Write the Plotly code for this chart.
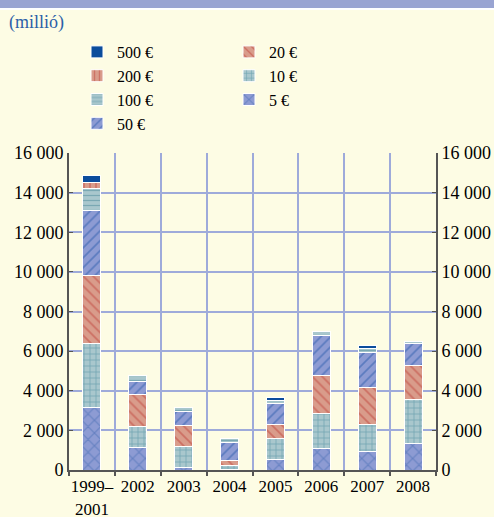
import plotly.graph_objects as go

# Euro banknotes, net quantities by denomination (million pieces)
years = ["1999–<br>2001", "2002", "2003", "2004", "2005", "2006", "2007", "2008"]

eur5 = [3150, 1140, 150, 30, 540, 1100, 950, 1340]
eur10 = [3210, 1060, 1050, 200, 1040, 1740, 1330, 2210]
eur20 = [3440, 1590, 1050, 250, 700, 1940, 1860, 1700]
eur50 = [3300, 690, 680, 900, 1070, 2010, 1770, 1120]
eur100 = [1130, 270, 200, 200, 170, 180, 240, 130]
eur200 = [280, 0, 0, 0, 0, 0, 0, 0]
eur500 = [340, 0, 0, 0, 130, 0, 150, 0]

series = [
    # name, values, fill, pattern shape, pattern colour, pattern size, legend rank
    ("5 €", eur5, "#8d9bd3", "x", "#3f68b0", 9, 6),
    ("10 €", eur10, "#a9c7cd", "+", "#3d8797", 6, 4),
    ("20 €", eur20, "#d99c8b", "\\", "#c0413a", 7, 2),
    ("50 €", eur50, "#8d9bd3", "/", "#2a5cab", 7, 7),
    ("100 €", eur100, "#a9c7cd", "-", "#4b8a99", 5, 5),
    ("200 €", eur200, "#d99c8b", "|", "#c0413a", 6, 3),
    ("500 €", eur500, "#0b4c9c", "", "#0b4c9c", 8, 1),
]

serif = "Liberation Serif"
bg = "#fdfce4"
grid = "#9eaada"
axis_col = "#555555"
W, H = 494, 517
L, R, T, B = 69, 58, 153, 47
PW, PH = W - L - R, H - T - B

fig = go.Figure()
for name, vals, fill, shape, fg, size, rank in series:
    fig.add_trace(go.Bar(
        x=years, y=vals, name=name, legendrank=rank,
        marker=dict(
            color=fill,
            line=dict(color="white", width=1),
            pattern=dict(shape=shape, fgcolor=fg, bgcolor=fill, size=size, solidity=0.25),
        ),
    ))

# transparent companion trace so the right-hand axis is drawn
fig.add_trace(go.Bar(x=years, y=[0] * len(years), yaxis="y2", showlegend=False,
                     hoverinfo="skip", marker=dict(color="rgba(0,0,0,0)")))

y_font = dict(family=serif, size=18, color="black")
x_font = dict(family=serif, size=17, color="black")

fig.update_layout(
    width=W, height=H,
    margin=dict(l=L, r=R, t=T, b=B, autoexpand=False),
    paper_bgcolor=bg, plot_bgcolor=bg,
    barmode="stack", bargap=0.61,
    separators=", ",
    font=dict(family=serif, size=17, color="black"),
    showlegend=True,
    legend=dict(
        orientation="h", x=77 / W, xref="container", y=1 - 35 / H, yref="container",
        xanchor="left", yanchor="top",
        entrywidth=107, entrywidthmode="pixels",
        traceorder="normal", bgcolor="rgba(0,0,0,0)",
        font=dict(family=serif, size=16, color="black"),
        itemclick=False,
    ),
    xaxis=dict(
        type="category", tickson="boundaries", tickangle=0, automargin=False,
        showgrid=True, gridcolor=grid, gridwidth=1.5,
        showline=True, linecolor=axis_col, linewidth=2,
        ticks="outside", ticklen=4, tickcolor=axis_col, tickwidth=2,
        tickfont=x_font,
    ),
    yaxis=dict(
        range=[0, 16000], dtick=2000, tickformat=",d", automargin=False,
        showgrid=True, gridcolor=grid, gridwidth=1.5, zeroline=False,
        showline=True, linecolor=axis_col, linewidth=2,
        ticks="inside", ticklen=4, tickcolor=axis_col,
        tickfont=y_font,
    ),
    yaxis2=dict(
        range=[0, 16000], dtick=2000, tickformat=",d", overlaying="y", side="right",
        automargin=False, showgrid=False, zeroline=False,
        showline=True, linecolor=axis_col, linewidth=2,
        ticks="inside", ticklen=4, tickcolor=axis_col,
        tickfont=y_font,
    ),
    shapes=[
        dict(type="rect", xref="paper", yref="paper", x0=-L / PW, x1=1 + R / PW,
             y0=1 + (T - 8) / PH, y1=1 + T / PH, fillcolor="#99a4d2", line_width=0, layer="below"),
        dict(type="rect", xref="paper", yref="paper", x0=-L / PW, x1=1 + R / PW,
             y0=1 + (T - 10) / PH, y1=1 + (T - 8) / PH, fillcolor="white", line_width=0, layer="below"),
    ],
    annotations=[
        dict(text="(millió)", xref="paper", yref="paper", x=-(L - 7) / PW, y=1 + (T - 10) / PH,
             xanchor="left", yanchor="top", showarrow=False,
             font=dict(family=serif, size=18, color="#2b5fa8")),
    ],
)

fig.write_html("out.html")
